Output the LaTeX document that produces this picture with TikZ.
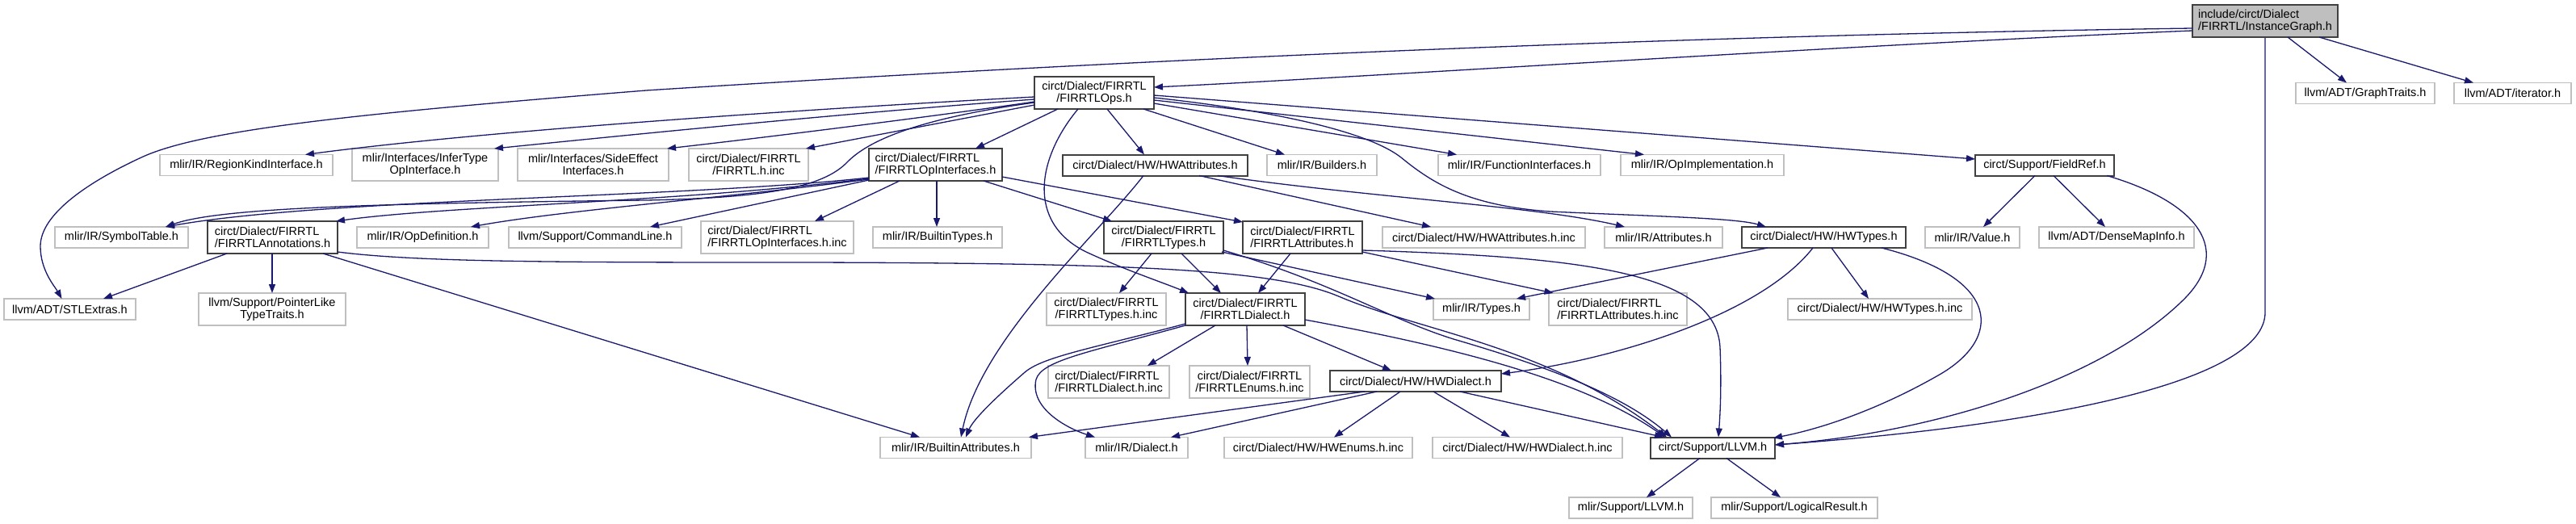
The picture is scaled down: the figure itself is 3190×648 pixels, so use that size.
\documentclass[tikz,border=0pt]{standalone}
\usepackage{fontspec}
\setmainfont{Liberation Sans}
\usetikzlibrary{arrows.meta,calc}
\definecolor{edgec}{HTML}{191970}
\definecolor{grayb}{HTML}{BFBFBF}
\definecolor{darkb}{HTML}{404040}
\definecolor{rootf}{HTML}{BFBFBF}
\tikzset{
  box/.style={rectangle, inner sep=0pt, fill=white, text=black, font=\fontsize{14.5}{15}\selectfont},
  gbox/.style={box, draw=grayb, line width=1.6pt},
  bbox/.style={box, draw=darkb, line width=2pt},
  rbox/.style={bbox, fill=rootf},
  s1/.style={minimum height=26pt},
  s2/.style={minimum height=40pt},
  edge/.style={draw=edgec, line width=1.3pt, -{Triangle[length=11pt,width=8pt]}},
}
\begin{document}
\begin{tikzpicture}[x=1pt,y=-1pt]
\useasboundingbox[fill=white] (0,0) rectangle (3190,648);
% row 0
\node[rbox,s2,minimum width=180pt,align=left] (root) at (2805,26) {include/circt/Dialect\\/FIRRTL/InstanceGraph.h};
% row 1
\node[bbox,s2,minimum width=148pt,align=center] (ops) at (1355,115) {circt/Dialect/FIRRTL\\/FIRRTLOps.h};
\node[gbox,s1,minimum width=172pt] (graph) at (2929,115.5) {llvm/ADT/GraphTraits.h};
\node[gbox,s1,minimum width=145pt] (iter) at (3111.5,115.5) {llvm/ADT/iterator.h};
% row 2
\node[gbox,s1,minimum width=214pt] (region) at (305,204.5) {mlir/IR/RegionKindInterface.h};
\node[gbox,s2,minimum width=181pt,align=center] (infer) at (526.5,204) {mlir/Interfaces/InferType\\OpInterface.h};
\node[gbox,s2,minimum width=187pt,align=center] (side) at (734.5,204) {mlir/Interfaces/SideEffect\\Interfaces.h};
\node[gbox,s2,minimum width=148pt,align=center] (firinc) at (927,204) {circt/Dialect/FIRRTL\\/FIRRTL.h.inc};
\node[bbox,s2,minimum width=165pt,align=left] (opif) at (1158.5,204) {circt/Dialect/FIRRTL\\/FIRRTLOpInterfaces.h};
\node[bbox,s1,minimum width=229pt] (hwattr) at (1430.5,204.5) {circt/Dialect/HW/HWAttributes.h};
\node[gbox,s1,minimum width=136pt] (builders) at (1637,204.5) {mlir/IR/Builders.h};
\node[gbox,s1,minimum width=201pt] (funcif) at (1881.5,204.5) {mlir/IR/FunctionInterfaces.h};
\node[gbox,s1,minimum width=202pt] (opimpl) at (2108,204.5) {mlir/IR/OpImplementation.h};
\node[bbox,s1,minimum width=172pt] (fieldref) at (2532,204.5) {circt/Support/FieldRef.h};
% row 3
\node[gbox,s1,minimum width=165pt] (symtab) at (150.5,294) {mlir/IR/SymbolTable.h};
\node[bbox,s2,minimum width=161pt,align=left] (annot) at (337.5,294) {circt/Dialect/FIRRTL\\/FIRRTLAnnotations.h};
\node[gbox,s1,minimum width=163pt] (opdef) at (523.5,294) {mlir/IR/OpDefinition.h};
\node[gbox,s1,minimum width=214pt] (cmdline) at (737,294) {llvm/Support/CommandLine.h};
\node[gbox,s2,minimum width=189pt,align=left] (opifinc) at (962.5,294) {circt/Dialect/FIRRTL\\/FIRRTLOpInterfaces.h.inc};
\node[gbox,s1,minimum width=160pt] (btypes) at (1161,294) {mlir/IR/BuiltinTypes.h};
\node[bbox,s2,minimum width=148pt,align=center] (types) at (1441,294) {circt/Dialect/FIRRTL\\/FIRRTLTypes.h};
\node[bbox,s2,minimum width=148pt,align=left] (attrs) at (1613,294) {circt/Dialect/FIRRTL\\/FIRRTLAttributes.h};
\node[gbox,s1,minimum width=251pt] (hwattrinc) at (1837.5,294) {circt/Dialect/HW/HWAttributes.h.inc};
\node[gbox,s1,minimum width=146pt] (mattrs) at (2060,294) {mlir/IR/Attributes.h};
\node[bbox,s1,minimum width=203pt] (hwtypes) at (2258.5,294) {circt/Dialect/HW/HWTypes.h};
\node[gbox,s1,minimum width=117pt] (value) at (2442.5,294) {mlir/IR/Value.h};
\node[gbox,s1,minimum width=192pt] (densemap) at (2621,294) {llvm/ADT/DenseMapInfo.h};
% row 4
\node[gbox,s1,minimum width=163pt] (stl) at (86.5,383) {llvm/ADT/STLExtras.h};
\node[gbox,s2,minimum width=182pt,align=center] (ptrlike) at (337,383) {llvm/Support/PointerLike\\TypeTraits.h};
\node[gbox,s2,minimum width=148pt,align=center] (typesinc) at (1370,383) {circt/Dialect/FIRRTL\\/FIRRTLTypes.h.inc};
\node[bbox,s2,minimum width=148pt,align=center] (dialect) at (1542,383) {circt/Dialect/FIRRTL\\/FIRRTLDialect.h};
\node[gbox,s1,minimum width=119pt] (mtypes) at (1834.5,383) {mlir/IR/Types.h};
\node[gbox,s2,minimum width=171pt,align=left] (attrsinc) at (2003.5,383) {circt/Dialect/FIRRTL\\/FIRRTLAttributes.h.inc};
\node[gbox,s1,minimum width=228pt] (hwtypesinc) at (2328,383) {circt/Dialect/HW/HWTypes.h.inc};
% row 5
\node[gbox,s2,minimum width=150pt,align=left] (dialectinc) at (1373,473) {circt/Dialect/FIRRTL\\/FIRRTLDialect.h.inc};
\node[gbox,s2,minimum width=149pt,align=center] (enumsinc) at (1547.5,473) {circt/Dialect/FIRRTL\\/FIRRTLEnums.h.inc};
\node[bbox,s1,minimum width=212pt] (hwdialect) at (1753,472) {circt/Dialect/HW/HWDialect.h};
% row 6
\node[gbox,s1,minimum width=187pt] (battrs) at (1183.5,554.5) {mlir/IR/BuiltinAttributes.h};
\node[gbox,s1,minimum width=127pt] (mdialect) at (1407.5,554.5) {mlir/IR/Dialect.h};
\node[gbox,s1,minimum width=233pt] (hwenums) at (1632.5,554.5) {circt/Dialect/HW/HWEnums.h.inc};
\node[gbox,s1,minimum width=235pt] (hwdialectinc) at (1891.5,554.5) {circt/Dialect/HW/HWDialect.h.inc};
\node[bbox,s1,minimum width=154pt] (llvm) at (2121,554.5) {circt/Support/LLVM.h};
% row 7
\node[gbox,s1,minimum width=153pt] (mllvm) at (2019.5,629) {mlir/Support/LLVM.h};
\node[gbox,s1,minimum width=206pt] (logical) at (2222,629) {mlir/Support/LogicalResult.h};

% ---- edges ----
% root
\draw[edge] ($(root)+(-90,12)$) .. controls (2300,55) and (1700,95) .. ($(ops)+(74,-7)$);
\draw[edge] ($(root)+(-90,9)$) .. controls (2000,45) and (1300,80) .. (800,112)
  .. controls (450,140) and (250,160) .. (175,195)
  .. controls (110,225) and (50,265) .. (50,305)
  .. controls (50,335) and (68,355) .. ($(stl)+(-10,-13)$);
\draw[edge] ($(root)+(28,20)$) -- ($(graph)+(-23,-13)$);
\draw[edge] ($(root)+(67,20)$) -- ($(iter)+(-48.5,-13)$);
\draw[edge] (root.south) -- (2805,387) .. controls (2805,470) and (2550,525) .. ($(llvm)+(77,-3.5)$);
% FIRRTLOps
\draw[edge] ($(ops)+(-74,5)$) .. controls (1000,135) and (600,162) .. ($(region)+(73,-13)$);
\draw[edge] ($(ops)+(-74,8)$) .. controls (1050,140) and (800,165) .. ($(infer)+(85.5,-20)$);
\draw[edge] ($(ops)+(-74,11)$) .. controls (1150,145) and (950,170) .. ($(side)+(91.5,-20)$);
\draw[edge] ($(ops)+(-74,15)$) -- ($(firinc)+(71,-20)$);
\draw[edge] ($(ops)+(-45,20)$) -- ($(opif)+(49.5,-20)$);
\draw[edge] ($(ops)+(16,20)$) -- ($(hwattr)+(-13.5,-13)$);
\draw[edge] ($(ops)+(61,20)$) -- ($(builders)+(-46,-13)$);
\draw[edge] ($(ops)+(74,13)$) -- ($(funcif)+(-77.5,-13)$);
\draw[edge] ($(ops)+(74,9)$) -- ($(opimpl)+(-72,-13)$);
\draw[edge] ($(ops)+(74,3)$) -- ($(fieldref)+(-86,-7.5)$);
\draw[edge] ($(ops)+(74,6)$) .. controls (1560,135) and (1690,160) .. (1735,195)
  .. controls (1775,228) and (1820,255) .. (1920,262)
  .. controls (2050,268) and (2150,270) .. ($(hwtypes)+(-71.5,-13)$);
\draw[edge] ($(ops)+(-20,20)$) .. controls (1285,195) and (1270,275) .. (1345,312)
  .. controls (1390,333) and (1440,350) .. ($(dialect)+(-70,-20)$);
\draw[edge] ($(ops)+(-74,12)$) .. controls (1150,145) and (1080,170) .. (1050,200)
  .. controls (1020,232) and (950,245) .. (800,248)
  .. controls (450,252) and (270,258) .. ($(symtab)+(54.5,-13)$);
% FIRRTLOpInterfaces
\draw[edge] ($(opif)+(-82.5,16)$) .. controls (850,245) and (400,246) .. ($(symtab)+(54.5,-13)$);
\draw[edge] ($(opif)+(-82.5,17)$) .. controls (850,250) and (550,255) .. ($(annot)+(78.5,-20)$);
\draw[edge] ($(opif)+(-82.5,18)$) .. controls (900,245) and (700,260) .. ($(opdef)+(59.5,-13)$);
\draw[edge] ($(opif)+(-82.5,19)$) -- ($(cmdline)+(68,-13)$);
\draw[edge] ($(opif)+(-44.5,20)$) -- ($(opifinc)+(46.5,-20)$);
\draw[edge] ($(opif)+(1.5,20)$) -- ($(btypes)+(-1,-13)$);
\draw[edge] ($(opif)+(59.5,20)$) -- ($(types)+(-64,-20)$);
\draw[edge] ($(opif)+(82.5,15)$) -- ($(attrs)+(-74,-19)$);
% HWAttributes
\draw[edge] ($(hwattr)+(54.5,13)$) -- ($(hwattrinc)+(-65.5,-13)$);
\draw[edge] ($(hwattr)+(77.5,13)$) .. controls (1700,245) and (1900,255) .. ($(mattrs)+(-48,-13)$);
\draw[edge] ($(hwattr)+(-14.5,13)$) .. controls (1360,290) and (1215,420) .. ($(battrs)+(6.5,-13)$);
% FieldRef
\draw[edge] ($(fieldref)+(-12,13)$) -- ($(value)+(13.5,-13)$);
\draw[edge] ($(fieldref)+(11,13)$) -- ($(densemap)+(-14,-13)$);
\draw[edge] ($(fieldref)+(77,13)$) .. controls (2720,250) and (2770,310) .. (2700,375)
  .. controls (2600,470) and (2400,535) .. ($(llvm)+(77,-3.5)$);
% HWTypes
\draw[edge] ($(hwtypes)+(-69.5,13)$) -- ($(mtypes)+(43.5,-13)$);
\draw[edge] ($(hwtypes)+(-13.5,13)$) .. controls (2180,390) and (2000,445) .. ($(hwdialect)+(106,-9)$);
\draw[edge] ($(hwtypes)+(9.5,13)$) -- ($(hwtypesinc)+(-14,-13)$);
\draw[edge] ($(hwtypes)+(71.5,13)$) .. controls (2480,345) and (2480,420) .. (2400,465)
  .. controls (2330,505) and (2260,530) .. ($(llvm)+(75,-12)$);
% FIRRTLTypes
\draw[edge] ($(types)+(-15,20)$) -- ($(typesinc)+(16,-20)$);
\draw[edge] ($(types)+(22,20)$) -- ($(dialect)+(-30,-20)$);
\draw[edge] ($(types)+(72,18)$) -- ($(mtypes)+(-57.5,-13)$);
\draw[edge] ($(types)+(74,16)$) .. controls (1650,350) and (1720,395) .. (1800,420)
  .. controls (1920,455) and (2010,490) .. ($(llvm)+(-51,-13)$);
% FIRRTLAttributes
\draw[edge] ($(attrs)+(74,18)$) -- ($(attrsinc)+(-80,-20)$);
\draw[edge] ($(attrs)+(74,16)$) .. controls (1950,318) and (2125,335) .. (2130,430)
  .. controls (2132,480) and (2130,515) .. ($(llvm)+(7,-13)$);
\draw[edge] ($(attrs)+(-15,20)$) -- ($(dialect)+(16,-20)$);
% FIRRTLDialect
\draw[edge] ($(dialect)+(-37,20)$) -- ($(dialectinc)+(48,-20)$);
\draw[edge] ($(dialect)+(2,20)$) -- ($(enumsinc)+(-2.5,-20)$);
\draw[edge] ($(dialect)+(-74,18)$) .. controls (1350,432) and (1290,442) .. (1268,462)
  .. controls (1230,495) and (1205,520) .. ($(battrs)+(12.5,-13)$);
\draw[edge] ($(dialect)+(-74,20)$) .. controls (1350,436) and (1290,446) .. (1283,470)
  .. controls (1275,505) and (1320,530) .. ($(mdialect)+(-51.5,-13)$);
\draw[edge] ($(dialect)+(47,20)$) -- ($(hwdialect)+(-30,-13)$);
\draw[edge] ($(dialect)+(74,13)$) .. controls (1800,430) and (1960,470) .. ($(llvm)+(-59,-13)$);
% HWDialect
\draw[edge] ($(hwdialect)+(-63,13)$) -- ($(battrs)+(90.5,-13)$);
\draw[edge] ($(hwdialect)+(-48,13)$) -- ($(mdialect)+(42.5,-13)$);
\draw[edge] ($(hwdialect)+(-19,13)$) -- ($(hwenums)+(19.5,-13)$);
\draw[edge] ($(hwdialect)+(22,13)$) -- ($(hwdialectinc)+(-21.5,-13)$);
\draw[edge] ($(hwdialect)+(55,13)$) -- ($(llvm)+(-61,-13)$);
% LLVM
\draw[edge] ($(llvm)+(-16,13)$) -- ($(mllvm)+(19.5,-13)$);
\draw[edge] ($(llvm)+(17,13)$) -- ($(logical)+(-17,-13)$);
% FIRRTLAnnotations
\draw[edge] ($(annot)+(-56.5,20)$) -- ($(stl)+(41.5,-13)$);
\draw[edge] ($(annot)+(-0.5,20)$) -- ($(ptrlike)+(0,-20)$);
\draw[edge] ($(annot)+(62.5,20)$) -- ($(battrs)+(-44.5,-13)$);
\draw[edge] ($(annot)+(80.5,18)$) .. controls (520,325) and (700,325) .. (1000,325)
  .. controls (1400,326) and (1580,333) .. (1660,368)
  .. controls (1760,410) and (1920,430) .. ($(llvm)+(-57,-13)$);
\end{tikzpicture}
\end{document}
